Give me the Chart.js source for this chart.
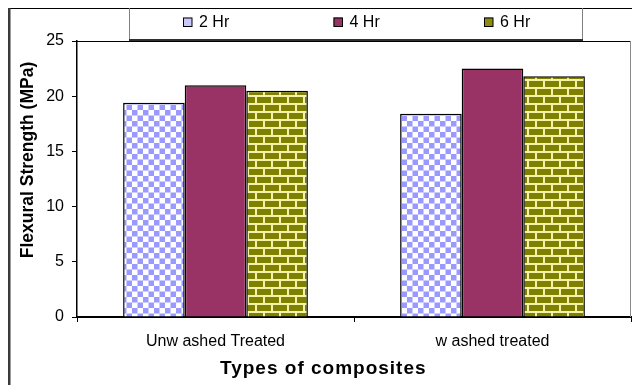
<!DOCTYPE html>
<html>
<head>
<meta charset="utf-8">
<script src="https://cdn.jsdelivr.net/npm/chart.js@4/dist/chart.umd.min.js"></script>
<style>
  html, body { margin: 0; padding: 0; background: #fff; }
  canvas { display: block; }
</style>
</head>
<body>
<canvas id="c" width="632" height="385"></canvas>
<script>
// Flexural strength of composites by treatment time
const categories = ['Unw ashed Treated', 'w ashed treated'];
const seriesNames = ['2 Hr', '4 Hr', '6 Hr'];
const hr2 = [19.4, 18.4];
const hr4 = [21.0, 22.5];
const hr6 = [20.5, 21.8];
const yTickValues = [0, 5, 10, 15, 20, 25];
const yTitle = 'Flexural Strength (MPa)';
const xTitle = 'Types of composites';

// Fill patterns
function checkerPattern(ctx) {
  const t = document.createElement('canvas');
  t.width = 11; t.height = 11;
  const g = t.getContext('2d');
  g.fillStyle = '#ffffff';
  g.fillRect(0, 0, 11, 11);
  g.fillStyle = '#9999ff';
  g.fillRect(0, 0, 5.5, 5.5);
  g.fillRect(5.5, 5.5, 5.5, 5.5);
  return ctx.createPattern(t, 'repeat');
}
function brickPattern(ctx) {
  const t = document.createElement('canvas');
  t.width = 16; t.height = 16;
  const g = t.getContext('2d');
  g.fillStyle = '#f2f2a8';
  g.fillRect(0, 0, 16, 16);
  g.fillStyle = '#808000';
  g.fillRect(1, 1, 14, 6);
  g.fillRect(9, 9, 14, 6);
  g.fillRect(-7, 9, 14, 6);
  return ctx.createPattern(t, 'repeat');
}

const canvas = document.getElementById('c');
const ctx = canvas.getContext('2d');
const fills = [checkerPattern(ctx), '#993366', brickPattern(ctx)];
const swatchFills = ['#c8c8ff', '#993366', '#8c8c10'];

const decorations = {
  id: 'decorations',
  afterDraw(chart) {
    const c = chart.ctx;
    const a = chart.chartArea;
    c.save();
    // outer frame
    c.strokeStyle = '#000';
    c.lineWidth = 1;
    c.beginPath(); c.moveTo(8, 8.5); c.lineTo(632, 8.5); c.stroke();
    c.strokeStyle = '#3a3a3a';
    c.lineWidth = 2.5;
    c.beginPath(); c.moveTo(9.25, 8); c.lineTo(9.25, 385); c.stroke();

    // plot area top and right edges
    c.strokeStyle = '#000';
    c.lineWidth = 1;
    c.beginPath(); c.moveTo(a.left, a.top + 0.5); c.lineTo(a.right, a.top + 0.5); c.stroke();
    c.strokeStyle = '#8a8a8a';
    c.beginPath(); c.moveTo(a.right - 0.5, a.top); c.lineTo(a.right - 0.5, a.bottom); c.stroke();

    // legend box
    c.strokeStyle = '#808080';
    c.lineWidth = 1;
    c.beginPath();
    c.moveTo(129.5, 8); c.lineTo(129.5, 40);
    c.moveTo(582.5, 8); c.lineTo(582.5, 40);
    c.stroke();
    c.strokeStyle = '#303030';
    c.lineWidth = 2;
    c.beginPath(); c.moveTo(129, 40); c.lineTo(583, 40); c.stroke();

    // legend items
    c.font = '16px "Liberation Sans", Arial, sans-serif';
    c.textBaseline = 'alphabetic';
    c.textAlign = 'left';
    chart.data.datasets.forEach((ds, i) => {
      const x = 183 + i * 150.5;
      c.fillStyle = swatchFills[i];
      c.fillRect(x, 17.5, 9, 9);
      c.strokeStyle = '#000';
      c.lineWidth = 1;
      c.strokeRect(x + 0.5, 18, 8.5, 8.5);
      c.fillStyle = '#000';
      c.fillText(ds.label, x + 16, 27);
    });

    // y axis title
    c.save();
    c.translate(33, 160);
    c.rotate(-Math.PI / 2);
    c.font = 'bold 17.5px "Liberation Sans", Arial, sans-serif';
    c.textAlign = 'center';
    c.textBaseline = 'alphabetic';
    c.fillStyle = '#000';
    c.fillText(yTitle, 0, 0);
    c.restore();

    // x axis title
    c.font = 'bold 19px "Liberation Sans", Arial, sans-serif';
    c.textAlign = 'left';
    c.textBaseline = 'alphabetic';
    c.fillStyle = '#000';
    c.letterSpacing = '1px';
    c.fillText(xTitle, 220, 373.5);
    c.letterSpacing = '0px';
    c.restore();
  }
};

new Chart(ctx, {
  type: 'bar',
  data: {
    labels: categories,
    datasets: [
      { label: seriesNames[0], data: hr2, backgroundColor: fills[0] },
      { label: seriesNames[1], data: hr4, backgroundColor: fills[1] },
      { label: seriesNames[2], data: hr6, backgroundColor: fills[2] }
    ]
  },
  options: {
    responsive: false,
    animation: false,
    devicePixelRatio: 1,
    layout: { padding: { left: 0, top: 41, right: 1, bottom: 0 } },
    datasets: {
      bar: {
        categoryPercentage: 0.667,
        barPercentage: 1,
        borderColor: '#000',
        borderWidth: 1.5,
        inflateAmount: 0
      }
    },
    plugins: {
      legend: { display: false },
      tooltip: { enabled: false }
    },
    scales: {
      x: {
        offset: true,
        grid: { offset: true, drawOnChartArea: false, tickLength: 5, color: '#000', lineWidth: 1 },
        border: { color: '#000', width: 2 },
        ticks: {
          color: '#000',
          font: { family: '"Liberation Sans", Arial, sans-serif', size: 16 },
          padding: 10,
          maxRotation: 0
        },
        afterFit(scale) { scale.height = 68; }
      },
      y: {
        min: 0,
        max: 25,
        grid: { drawOnChartArea: false, tickLength: 5, color: '#000', lineWidth: 1 },
        border: { color: '#000', width: 1.5 },
        ticks: {
          color: '#000',
          font: { family: '"Liberation Sans", Arial, sans-serif', size: 16 },
          padding: 8
        },
        afterBuildTicks(scale) { scale.ticks = yTickValues.map(v => ({ value: v })); },
        afterFit(scale) { scale.width = 77; }
      }
    }
  },
  plugins: [decorations]
});
</script>
</body>
</html>
